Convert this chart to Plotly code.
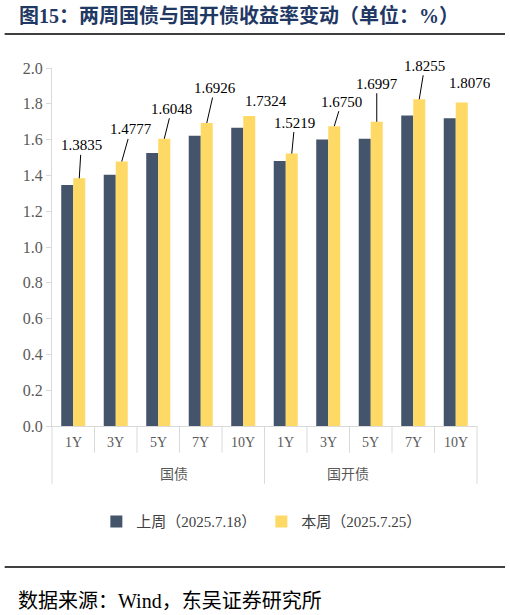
import plotly.graph_objects as go

groups = ["国债"] * 5 + ["国开债"] * 5
tenors = ["1Y", "3Y", "5Y", "7Y", "10Y"] * 2
last_week = [1.346, 1.404, 1.525, 1.621, 1.666, 1.480, 1.601, 1.605, 1.734, 1.719]
this_week = [1.3835, 1.4777, 1.6048, 1.6926, 1.7324, 1.5219, 1.6750, 1.6997, 1.8255, 1.8076]
series_names = ["上周（2025.7.18）", "本周（2025.7.25）"]

# label offsets in pixels (dx, dy, leader line)
label_offsets = [(2, -33, True), (9, -32, True), (7.5, -30, True), (8, -35, True), (17, -15, False),
                 (3, -31, True), (7.5, -24.5, True), (0, -38, True), (5.5, -33.5, True), (8, -19, False)]

SERIF = "Liberation Serif, Noto Sans CJK SC"
CJK = "Noto Sans CJK SC"
DARK = "#44546A"
YELLOW = "#FFD966"
AXIS = "#D9D9D9"
BARGAP = 0.435

n = len(tenors)
pos = list(range(n))

fig = go.Figure()
fig.add_trace(go.Bar(x=pos, y=last_week, name=series_names[0],
                     marker=dict(color=DARK, line=dict(width=0))))
fig.add_trace(go.Bar(x=pos, y=this_week, name=series_names[1],
                     marker=dict(color=YELLOW, line=dict(width=0))))

# plot area in pixels
L, R, T, B = 52.3, 477.0, 68.3, 426.3
W, H = R - L, B - T
def px(x):
    return (x - L) / W
def py(y):
    return (B - y) / H
def xpaper(p):
    return (p + 0.5) / n

offset = (1 - BARGAP) / 4
annotations = []
for i, v in enumerate(this_week):
    dx, dy, arrow = label_offsets[i]
    if arrow:
        annotations.append(dict(x=i + offset, y=v, xref="x", yref="y", text=f"{v:.4f}",
                                showarrow=True, arrowhead=0, arrowwidth=1, arrowcolor="#000000",
                                ax=dx, ay=dy, standoff=0, startstandoff=0,
                                font=dict(family=SERIF, size=15, color="#000000")))
    else:
        annotations.append(dict(x=i + offset, y=v, xref="x", yref="y", text=f"{v:.4f}",
                                showarrow=False, xshift=dx, yshift=-dy, yanchor="middle",
                                font=dict(family=SERIF, size=15, color="#000000")))

# category axis: inner labels, boundary ticks, group labels and dividers
shapes = []
for i, t in enumerate(tenors):
    annotations.append(dict(x=i, y=py(443), xref="x", yref="paper", text=t, showarrow=False,
                            yanchor="middle", font=dict(family=SERIF, size=14, color="#595959")))
group_starts = [i for i in range(n) if i == 0 or groups[i] != groups[i - 1]]
group_bounds = group_starts + [n]
for k in range(len(group_starts)):
    a, b = group_bounds[k], group_bounds[k + 1]
    annotations.append(dict(x=xpaper((a + b - 1) / 2), y=py(473), xref="paper", yref="paper",
                            text=groups[a], showarrow=False, yanchor="middle",
                            font=dict(family=CJK, size=14, color="#595959")))
for b in group_bounds:
    xp = xpaper(b - 0.5)
    shapes.append(dict(type="line", xref="paper", yref="paper", x0=xp, x1=xp, y0=0, y1=py(484),
                       line=dict(color=AXIS, width=1)))
for i in range(1, n):
    if i not in group_bounds:
        xp = xpaper(i - 0.5)
        shapes.append(dict(type="line", xref="paper", yref="paper", x0=xp, x1=xp, y0=0, y1=py(453),
                           line=dict(color=AXIS, width=1)))

annotations.append(dict(x=px(17), y=py(15.5), xref="paper", yref="paper", xanchor="left", yanchor="middle",
                        text="<b>图15：两周国债与国开债收益率变动（单位：%）</b>", showarrow=False,
                        font=dict(family=SERIF, size=20, color="#1F3864")))
annotations.append(dict(x=px(16), y=py(601), xref="paper", yref="paper", xanchor="left", yanchor="middle",
                        text="数据来源：Wind，东吴证券研究所", showarrow=False,
                        font=dict(family=SERIF, size=20, color="#000000")))

shapes += [
    dict(type="line", xref="paper", yref="paper", x0=px(5), x1=px(505), y0=py(34.3), y1=py(34.3),
         line=dict(color="#000000", width=1.5)),
    dict(type="line", xref="paper", yref="paper", x0=px(5), x1=px(505), y0=py(567.3), y1=py(567.3),
         line=dict(color="#000000", width=1.5)),
]

fig.update_layout(
    width=510, height=615,
    margin=dict(l=L, r=510 - R, t=T, b=615 - B, autoexpand=False),
    paper_bgcolor="white", plot_bgcolor="white",
    barmode="group", bargap=BARGAP, bargroupgap=0,
    hovermode=False,
    showlegend=True,
    legend=dict(orientation="h", x=px(262), xanchor="center", y=py(522), yanchor="middle",
                font=dict(family=SERIF, size=15, color="#404040"), itemwidth=30,
                traceorder="normal"),
    annotations=annotations,
    shapes=shapes,
    font=dict(family=SERIF),
)
fig.update_yaxes(range=[0, 2.0], dtick=0.2, tickformat=".1f", showgrid=False, zeroline=False,
                 showline=True, linecolor=AXIS, linewidth=1, ticks="outside", ticklen=5,
                 tickcolor=AXIS, tickfont=dict(family=SERIF, size=16, color="#595959"))
fig.update_xaxes(range=[-0.5, n - 0.5], showgrid=False, zeroline=False, showline=True,
                 linecolor=AXIS, linewidth=1, showticklabels=False, ticks="")

fig.write_html("out.html", config={"displayModeBar": False, "staticPlot": True},
               post_script="document.body.style.margin='0';")
